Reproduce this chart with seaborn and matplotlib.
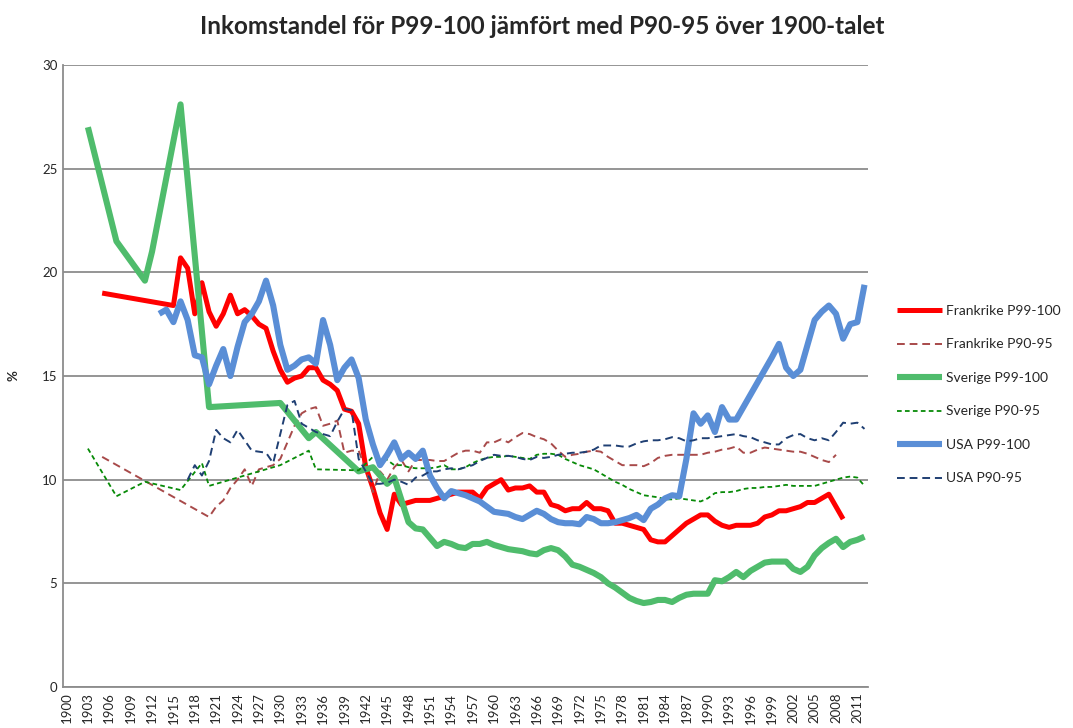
import numpy as np
import pandas as pd
import matplotlib
matplotlib.use('Agg')
from matplotlib import pyplot as plt
import seaborn as sns

sns.set_style("white")
plt.rcParams['font.family'] = ['Lato', 'DejaVu Sans']

# France P99-100
fr_top_years = [1905] + list(range(1915, 2010))
fr_top = [19.0,
          18.4, 20.7, 20.2, 18.0, 19.5,
          18.1, 17.4, 18.0, 18.9, 18.0, 18.2, 17.9, 17.5, 17.3, 16.2,
          15.3, 14.7, 14.9, 15.0, 15.4, 15.4, 14.8, 14.6, 14.3, 13.4,
          13.3, 12.7, 10.6, 9.6, 8.4, 7.6, 9.3, 8.8, 8.9, 9.0,
          9.0, 9.0, 9.1, 9.2, 9.3, 9.4, 9.4, 9.4, 9.1, 9.6,
          9.8, 10.0, 9.5, 9.6, 9.6, 9.7, 9.4, 9.4, 8.8, 8.7,
          8.5, 8.6, 8.6, 8.9, 8.6, 8.6, 8.5, 7.9, 7.9, 7.8,
          7.7, 7.6, 7.1, 7.0, 7.0, 7.3, 7.6, 7.9, 8.1, 8.3,
          8.3, 8.0, 7.8, 7.7, 7.8, 7.8, 7.8, 7.9, 8.2, 8.3,
          8.5, 8.5, 8.6, 8.7, 8.9, 8.9, 9.1, 9.3, 8.7, 8.1]

# France P90-95
fr_mid_years = [1905] + list(range(1920, 2009))
fr_mid = [11.1,
          8.2, 8.7, 9.0, 9.6, 10.0, 10.5, 9.7, 10.5, 10.6, 10.7,
          11.0, 11.8, 12.6, 13.2, 13.4, 13.5, 12.6, 12.7, 12.85, 11.3,
          11.4, 11.4, 10.5, 9.4, 10.4, 10.0, 10.6, 10.95, 10.4, 10.95,
          10.95, 10.95, 10.9, 10.9, 11.1, 11.3, 11.4, 11.4, 11.3, 11.8,
          11.8, 11.95, 11.8, 12.05, 12.25, 12.2, 12.05, 11.95, 11.75, 11.4,
          11.1, 11.2, 11.25, 11.35, 11.4, 11.35, 11.1, 10.9, 10.7, 10.7,
          10.7, 10.65, 10.8, 11.05, 11.15, 11.2, 11.2, 11.2, 11.2, 11.2,
          11.3, 11.35, 11.45, 11.5, 11.6, 11.3, 11.3, 11.45, 11.55, 11.5,
          11.45, 11.4, 11.35, 11.35, 11.25, 11.1, 10.95, 10.85, 11.2]

# Sverige P99-100
se_top_years = [1903, 1907, 1911, 1912, 1916, 1920, 1930, 1934, 1935,
                1941, 1943, 1945, 1946] + list(range(1948, 2013))
se_top = [27.0, 21.5, 19.6, 21.0, 28.1, 13.5, 13.7, 12.0, 12.3,
          10.4, 10.6, 9.8, 10.1,
          7.95, 7.65,
          7.6, 7.2, 6.8, 7.0, 6.9, 6.75, 6.7, 6.9, 6.9, 7.0,
          6.85, 6.75, 6.65, 6.6, 6.55, 6.45, 6.4, 6.6, 6.7, 6.6,
          6.3, 5.9, 5.8, 5.65, 5.5, 5.3, 5.0, 4.8, 4.55, 4.3,
          4.15, 4.05, 4.1, 4.2, 4.2, 4.1, 4.3, 4.45, 4.5, 4.5,
          4.5, 5.15, 5.1, 5.3, 5.55, 5.3, 5.6, 5.8, 6.0, 6.05,
          6.05, 6.05, 5.7, 5.55, 5.8, 6.35, 6.7, 6.95, 7.15, 6.75,
          7.0, 7.1, 7.25]

# Sverige P90-95
se_mid_years = [1903, 1907, 1911, 1916, 1919, 1920, 1930, 1934, 1935,
                1941, 1943, 1945] + list(range(1946, 2013))
se_mid = [11.5, 9.2, 9.9, 9.5, 10.8, 9.7, 10.7, 11.4, 10.5,
          10.45, 11.1, 10.95,
          10.7, 10.7, 10.6, 10.55,
          10.55, 10.55, 10.6, 10.7, 10.5, 10.5, 10.6, 10.8, 10.95, 11.05,
          11.1, 11.1, 11.15, 11.1, 11.05, 11.0, 11.2, 11.25, 11.25, 11.2,
          11.0, 10.85, 10.7, 10.6, 10.5, 10.3, 10.1, 9.9, 9.75, 9.55,
          9.4, 9.25, 9.2, 9.15, 9.05, 9.05, 9.1, 9.05, 9.0, 8.95,
          9.1, 9.35, 9.4, 9.4, 9.45, 9.55, 9.6, 9.6, 9.65, 9.65,
          9.7, 9.75, 9.7, 9.7, 9.7, 9.7, 9.8, 9.9, 10.0, 10.1,
          10.15, 10.1, 9.7]

# USA P99-100
us_top_years = list(range(1913, 2013))
us_top = [18.0, 18.2, 17.6, 18.6, 17.7, 16.0, 15.9,
          14.6, 15.5, 16.3, 15.0, 16.4, 17.6, 18.0, 18.6, 19.6, 18.4,
          16.5, 15.3, 15.5, 15.8, 15.9, 15.6, 17.7, 16.5, 14.8, 15.4,
          15.8, 14.9, 12.9, 11.7, 10.7, 11.2, 11.8, 11.0, 11.3, 11.0,
          11.4, 10.2, 9.6, 9.1, 9.45, 9.35, 9.25, 9.1, 8.95, 8.7,
          8.45, 8.4, 8.35, 8.2, 8.1, 8.3, 8.5, 8.35, 8.1, 7.95,
          7.9, 7.9, 7.85, 8.2, 8.1, 7.9, 7.9, 7.95, 8.05, 8.15,
          8.3, 8.05, 8.6, 8.8, 9.1, 9.25, 9.2, 11.0, 13.2, 12.7,
          13.1, 12.3, 13.5, 12.9, 12.9, 13.5, 14.1, 14.7, 15.3, 15.9,
          16.55, 15.4, 15.0, 15.3, 16.5, 17.7, 18.1, 18.4, 18.0, 16.8,
          17.5, 17.6, 19.4]

# USA P90-95
us_mid_years = list(range(1917, 2013))
us_mid = [10.0, 10.7, 10.2,
          10.9, 12.4, 12.0, 11.8, 12.4, 11.9, 11.4, 11.35, 11.3, 10.8,
          12.2, 13.6, 13.8, 12.7, 12.5, 12.3, 12.2, 12.1, 12.8, 13.4,
          13.35, 11.0, 10.4, 9.8, 9.8, 9.85, 10.0, 9.9, 9.75, 10.1,
          10.2, 10.4, 10.4, 10.5, 10.55, 10.5, 10.6, 10.7, 10.9, 11.05,
          11.2, 11.15, 11.15, 11.1, 11.0, 10.95, 11.1, 11.05, 11.1, 11.2,
          11.25, 11.3, 11.3, 11.35, 11.45, 11.65, 11.65, 11.65, 11.6, 11.6,
          11.75, 11.85, 11.9, 11.9, 11.95, 12.05, 12.0, 11.85, 11.9, 12.0,
          12.0, 12.05, 12.1, 12.15, 12.2, 12.1, 12.05, 11.9, 11.8, 11.7,
          11.7, 12.0, 12.15, 12.2, 12.0, 11.9, 12.0, 11.9, 12.3, 12.75,
          12.7, 12.75, 12.45]

series = [
    ('Frankrike P99-100', fr_top_years, fr_top, '#FF0000', 3.6, '-'),
    ('Frankrike P90-95', fr_mid_years, fr_mid, '#A84A4A', 1.4, (0, (4, 2.5))),
    ('Sverige P99-100', se_top_years, se_top, '#4FBC6C', 4.4, '-'),
    ('Sverige P90-95', se_mid_years, se_mid, '#078A07', 1.3, (0, (2.6, 1.8))),
    ('USA P99-100', us_top_years, us_top, '#5A8ED6', 4.4, '-'),
    ('USA P90-95', us_mid_years, us_mid, '#1F3F73', 1.4, (0, (4, 2.5))),
]

fig = plt.figure(figsize=(10.73, 7.28), dpi=100)
ax = fig.add_axes([0.0587, 0.0563, 0.7503, 0.8544])

for name, years, values, color, lw, ls in series:
    df = pd.DataFrame({'year': years, 'value': values})
    sns.lineplot(data=df, x='year', y='value', ax=ax, color=color,
                 linewidth=lw, linestyle=ls, label=name,
                 solid_joinstyle='round', solid_capstyle='butt')

ax.set_xlim(1899.5, 2012.5)
ax.set_ylim(0, 30)
ax.set_yticks(np.arange(0, 31, 5))
ax.set_yticklabels([str(v) for v in range(0, 31, 5)], fontsize=9.5)
ax.set_xticks(range(1900, 2012, 3))
ax.set_xticklabels([str(y) for y in range(1900, 2012, 3)],
                   rotation=90, fontsize=9.5)
ax.tick_params(axis='both', length=0, pad=4)
ax.grid(axis='y', color='#8C8C8C', linewidth=1.3)
ax.set_axisbelow(True)
for side in ['top', 'right']:
    ax.spines[side].set_visible(False)
for side in ['left', 'bottom']:
    ax.spines[side].set_color('#8C8C8C')
    ax.spines[side].set_linewidth(1.3)

ax.set_xlabel('')
ax.set_ylabel('%', fontsize=9.5, fontweight='bold', labelpad=16)

fig.suptitle('Inkomstandel för P99-100 jämfört med P90-95 över 1900-talet',
             x=0.505, y=0.979, fontsize=17.5, fontweight='bold')

ax.legend(loc='center left', bbox_to_anchor=(1.02, 0.47), frameon=False,
          fontsize=10, handlelength=3.3, handletextpad=0.25,
          labelspacing=1.55)

plt.savefig('out.png', dpi=100)
plt.close()
